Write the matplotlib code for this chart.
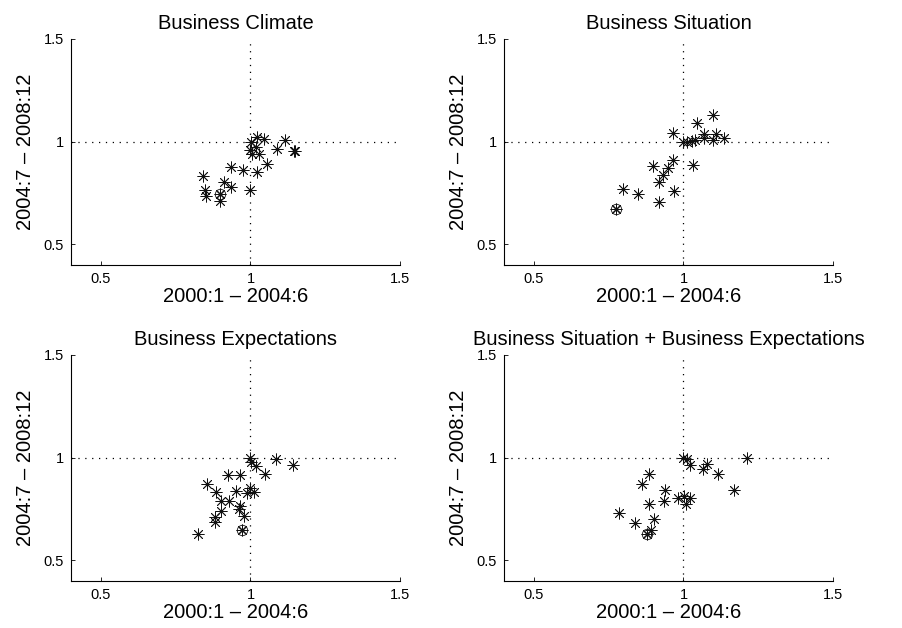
import matplotlib
matplotlib.use("Agg")
import matplotlib.pyplot as plt

plt.rcParams["font.family"] = ["Liberation Sans", "DejaVu Sans"]

titles = [
    "Business Climate",
    "Business Situation",
    "Business Expectations",
    "Business Situation + Business Expectations",
]
x_label = "2000:1 \u2013 2004:6"
y_label = "2004:7 \u2013 2008:12"
ticks = [0.5, 1, 1.5]

# Business Climate
climate_x = [1.002, 1.022, 1.045, 1.114, 1.090, 1.145, 1.148, 0.998, 1.017, 1.028,
             1.006, 1.054, 1.022, 0.975, 0.935, 0.841, 0.913, 0.935, 0.998, 0.847,
             0.850, 0.899, 0.899]
climate_y = [0.998, 1.022, 1.015, 1.010, 0.966, 0.954, 0.954, 0.958, 0.974, 0.941,
             0.941, 0.892, 0.851, 0.860, 0.876, 0.835, 0.803, 0.778, 0.765, 0.765,
             0.736, 0.746, 0.713]
climate_mark = (0.899, 0.746)

# Business Situation
situation_x = [0.998, 1.011, 1.027, 1.038, 0.964, 1.046, 1.098, 1.069, 1.069, 1.100,
               1.109, 1.135, 1.033, 0.964, 0.899, 0.949, 0.933, 0.919, 0.968, 0.797,
               0.849, 0.918, 0.776]
situation_y = [1.000, 1.000, 1.003, 1.010, 1.044, 1.091, 1.129, 1.036, 1.020, 1.007,
               1.036, 1.020, 0.889, 0.909, 0.883, 0.871, 0.836, 0.806, 0.762, 0.769,
               0.746, 0.705, 0.673]
situation_mark = (0.776, 0.673)

# Business Expectations
expect_x = [1.000, 1.002, 1.017, 1.085, 1.141, 1.047, 0.924, 0.966, 0.855, 0.886,
            0.951, 0.998, 0.987, 1.012, 0.903, 0.929, 0.965, 0.963, 0.903, 0.980,
            0.880, 0.883, 0.823, 0.971]
expect_y = [1.000, 0.977, 0.961, 0.992, 0.966, 0.920, 0.917, 0.917, 0.872, 0.834,
            0.839, 0.855, 0.826, 0.831, 0.787, 0.790, 0.766, 0.750, 0.741, 0.717,
            0.712, 0.688, 0.631, 0.650]
expect_mark = (0.971, 0.650)

# Business Situation + Business Expectations
both_x = [0.998, 1.011, 1.022, 1.078, 1.065, 1.114, 1.214, 1.169, 0.884, 0.860,
          0.937, 0.936, 0.884, 0.983, 1.002, 1.022, 1.009, 0.783, 0.901, 0.839,
          0.893, 0.877]
both_y = [1.000, 0.992, 0.966, 0.969, 0.943, 0.920, 0.997, 0.844, 0.920, 0.872,
          0.842, 0.790, 0.777, 0.803, 0.813, 0.803, 0.777, 0.733, 0.704, 0.680,
          0.647, 0.631]
both_mark = (0.877, 0.631)

panels = [
    (climate_x, climate_y, climate_mark),
    (situation_x, situation_y, situation_mark),
    (expect_x, expect_y, expect_mark),
    (both_x, both_y, both_mark),
]

W, H = 903, 628
# axes boxes in pixels: left, top, right, bottom
boxes = [(71, 39, 400, 265), (504, 39, 833, 265),
         (71, 355, 400, 581), (504, 355, 833, 581)]

fig = plt.figure(figsize=(W / 100, H / 100), dpi=100)
star = (8, 2, 0)
dots = (0, (1, 4.5))

for (xs, ys, mark), title, (l, t, r, b) in zip(panels, titles, boxes):
    ax = fig.add_axes([l / W, 1 - b / H, (r - l) / W, (b - t) / H])
    ax.axvline(1, color="black", linestyle=dots, linewidth=0.9)
    ax.axhline(1, color="black", linestyle=dots, linewidth=0.9)
    ax.plot(xs, ys, linestyle="none", marker=star, markersize=8.5,
            markeredgewidth=0.6, color="#111111")
    ax.plot([mark[0]], [mark[1]], linestyle="none", marker="o", markersize=7.5,
            markerfacecolor="none", markeredgecolor="#111111", markeredgewidth=0.6)
    ax.plot([mark[0]], [mark[1]], linestyle="none", marker=star, markersize=6,
            markeredgewidth=0.6, color="#111111")
    ax.set_xlim(0.4, 1.5)
    ax.set_ylim(0.4, 1.5)
    ax.set_xticks(ticks)
    ax.set_yticks(ticks)
    ax.set_xticklabels(["0.5", "1", "1.5"])
    ax.set_yticklabels(["0.5", "1", "1.5"])
    ax.tick_params(direction="in", length=3, width=0.6, labelsize=10.5, pad=5)
    for side in ("top", "right"):
        ax.spines[side].set_visible(False)
    for side in ("left", "bottom"):
        ax.spines[side].set_linewidth(0.8)
    ax.set_title(title, fontsize=14.5, pad=7)
    ax.set_xlabel(x_label, fontsize=14.5, labelpad=1)
    ax.set_ylabel(y_label, fontsize=14.5, labelpad=6)

fig.savefig("out.png", dpi=100)
